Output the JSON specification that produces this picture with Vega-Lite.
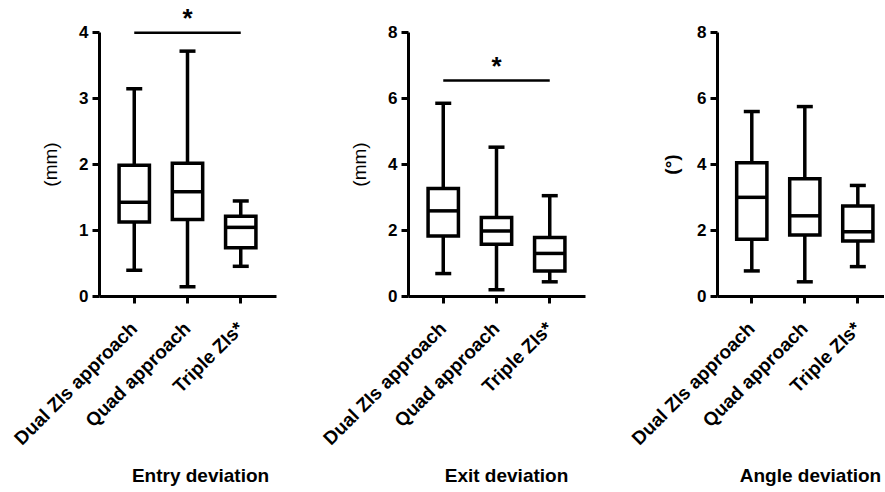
{
  "$schema": "https://vega.github.io/schema/vega-lite/v6.json",
  "background": "white",
  "padding": {"left": 10, "top": 5, "right": 0, "bottom": 0},
  "spacing": 132,
  "bounds": "flush",
  "datasets": {
    "entry": [
      {"group": "Dual ZIs approach", "lower": 0.39, "q1": 1.12, "median": 1.42, "q3": 1.98, "upper": 3.14},
      {"group": "Quad approach", "lower": 0.14, "q1": 1.16, "median": 1.58, "q3": 2.01, "upper": 3.71},
      {"group": "Triple ZIs*", "lower": 0.45, "q1": 0.73, "median": 1.04, "q3": 1.21, "upper": 1.44}
    ],
    "exit": [
      {"group": "Dual ZIs approach", "lower": 0.68, "q1": 1.82, "median": 2.58, "q3": 3.26, "upper": 5.84},
      {"group": "Quad approach", "lower": 0.19, "q1": 1.57, "median": 1.97, "q3": 2.38, "upper": 4.51},
      {"group": "Triple ZIs*", "lower": 0.43, "q1": 0.76, "median": 1.29, "q3": 1.77, "upper": 3.04}
    ],
    "angle": [
      {"group": "Dual ZIs approach", "lower": 0.76, "q1": 1.72, "median": 2.99, "q3": 4.04, "upper": 5.59},
      {"group": "Quad approach", "lower": 0.43, "q1": 1.85, "median": 2.43, "q3": 3.55, "upper": 5.74},
      {"group": "Triple ZIs*", "lower": 0.89, "q1": 1.67, "median": 1.95, "q3": 2.73, "upper": 3.35}
    ],
    "sig1": [{"from": "Dual ZIs approach", "to": "Triple ZIs*", "mid": "Quad approach", "line": 3.99, "star": 4.2, "label": "*"}],
    "sig2": [{"from": "Dual ZIs approach", "to": "Triple ZIs*", "mid": "Quad approach", "line": 6.53, "star": 6.95, "label": "*"}]
  },
  "config": {
    "view": {"stroke": null},
    "axis": {
      "grid": false,
      "domainColor": "black",
      "domainWidth": 3,
      "tickColor": "black",
      "tickWidth": 3,
      "tickSize": 7,
      "labelColor": "black",
      "labelFont": "Liberation Sans",
      "labelFontWeight": "bold",
      "titleColor": "black"
    },
    "axisY": {"labelFontSize": 17, "labelPadding": 4, "titleFont": "Liberation Sans", "titleFontSize": 19, "titleFontWeight": "normal", "titlePadding": 18},
    "axisX": {"labelAngle": -45, "labelAlign": "right", "labelBaseline": "middle", "labelFontSize": 19, "labelPadding": 22, "titleFont": "Liberation Sans", "titleFontSize": 19, "titleFontWeight": "bold", "titlePadding": 18, "titleAlign": "center"}
  },
  "hconcat": [
    {
      "width": 177,
      "height": 264,
      "layer": [
        {
          "data": {"name": "entry"},
          "layer": [
            {"mark": {"type": "rule", "color": "black", "strokeWidth": 3.5}, "encoding": {"y": {"field": "lower"}, "y2": {"field": "upper"}}},
            {"mark": {"type": "tick", "color": "black", "size": 16, "thickness": 3.5, "opacity": 1}, "encoding": {"y": {"field": "lower"}}},
            {"mark": {"type": "tick", "color": "black", "size": 16, "thickness": 3.5, "opacity": 1}, "encoding": {"y": {"field": "upper"}}},
            {"mark": {"type": "bar", "fill": "white", "stroke": "black", "strokeWidth": 3.5}, "encoding": {"y": {"field": "q1"}, "y2": {"field": "q3"}}},
            {"mark": {"type": "tick", "color": "black", "size": 30, "thickness": 3.5, "opacity": 1}, "encoding": {"y": {"field": "median"}}}
          ],
          "encoding": {
            "x": {"field": "group", "type": "nominal", "sort": null, "scale": {"paddingInner": 0.43, "paddingOuter": 0.377}, "axis": {"title": "Entry deviation", "titleX": 101}},
            "y": {"type": "quantitative", "scale": {"domain": [0, 4], "nice": false}, "axis": {"values": [0, 1, 2, 3, 4], "format": "d", "title": "(mm)"}}
          }
        },
        {
          "data": {"name": "sig1"},
          "layer": [
            {"mark": {"type": "rule", "color": "black", "strokeWidth": 2.5}, "encoding": {"x": {"field": "from", "type": "nominal"}, "x2": {"field": "to"}, "y": {"field": "line", "type": "quantitative"}}},
            {"mark": {"type": "text", "font": "Liberation Sans", "fontWeight": "bold", "fontSize": 26, "baseline": "middle", "color": "black"}, "encoding": {"x": {"field": "mid", "type": "nominal"}, "y": {"field": "star", "type": "quantitative"}, "text": {"field": "label"}}}
          ]
        }
      ]
    },
    {
      "width": 177,
      "height": 264,
      "layer": [
        {
          "data": {"name": "exit"},
          "layer": [
            {"mark": {"type": "rule", "color": "black", "strokeWidth": 3.5}, "encoding": {"y": {"field": "lower"}, "y2": {"field": "upper"}}},
            {"mark": {"type": "tick", "color": "black", "size": 16, "thickness": 3.5, "opacity": 1}, "encoding": {"y": {"field": "lower"}}},
            {"mark": {"type": "tick", "color": "black", "size": 16, "thickness": 3.5, "opacity": 1}, "encoding": {"y": {"field": "upper"}}},
            {"mark": {"type": "bar", "fill": "white", "stroke": "black", "strokeWidth": 3.5}, "encoding": {"y": {"field": "q1"}, "y2": {"field": "q3"}}},
            {"mark": {"type": "tick", "color": "black", "size": 30, "thickness": 3.5, "opacity": 1}, "encoding": {"y": {"field": "median"}}}
          ],
          "encoding": {
            "x": {"field": "group", "type": "nominal", "sort": null, "scale": {"paddingInner": 0.43, "paddingOuter": 0.377}, "axis": {"title": "Exit deviation", "titleX": 98}},
            "y": {"type": "quantitative", "scale": {"domain": [0, 8], "nice": false}, "axis": {"values": [0, 2, 4, 6, 8], "title": "(mm)"}}
          }
        },
        {
          "data": {"name": "sig2"},
          "layer": [
            {"mark": {"type": "rule", "color": "black", "strokeWidth": 2.5}, "encoding": {"x": {"field": "from", "type": "nominal"}, "x2": {"field": "to"}, "y": {"field": "line", "type": "quantitative"}}},
            {"mark": {"type": "text", "font": "Liberation Sans", "fontWeight": "bold", "fontSize": 26, "baseline": "middle", "color": "black"}, "encoding": {"x": {"field": "mid", "type": "nominal"}, "y": {"field": "star", "type": "quantitative"}, "text": {"field": "label"}}}
          ]
        }
      ]
    },
    {
      "width": 167,
      "height": 264,
      "data": {"name": "angle"},
      "layer": [
        {"mark": {"type": "rule", "color": "black", "strokeWidth": 3.5}, "encoding": {"y": {"field": "lower"}, "y2": {"field": "upper"}}},
        {"mark": {"type": "tick", "color": "black", "size": 16, "thickness": 3.5, "opacity": 1}, "encoding": {"y": {"field": "lower"}}},
        {"mark": {"type": "tick", "color": "black", "size": 16, "thickness": 3.5, "opacity": 1}, "encoding": {"y": {"field": "upper"}}},
        {"mark": {"type": "bar", "fill": "white", "stroke": "black", "strokeWidth": 3.5}, "encoding": {"y": {"field": "q1"}, "y2": {"field": "q3"}}},
        {"mark": {"type": "tick", "color": "black", "size": 30, "thickness": 3.5, "opacity": 1}, "encoding": {"y": {"field": "median"}}}
      ],
      "encoding": {
        "x": {"field": "group", "type": "nominal", "sort": null, "scale": {"paddingInner": 0.43, "paddingOuter": 0.29, "align": 0.64}, "axis": {"title": "Angle deviation", "titleX": 93}},
        "y": {"type": "quantitative", "scale": {"domain": [0, 8], "nice": false}, "axis": {"values": [0, 2, 4, 6, 8], "title": "(°)", "titleFontWeight": "bold", "titlePadding": 15}}
      }
    }
  ]
}
